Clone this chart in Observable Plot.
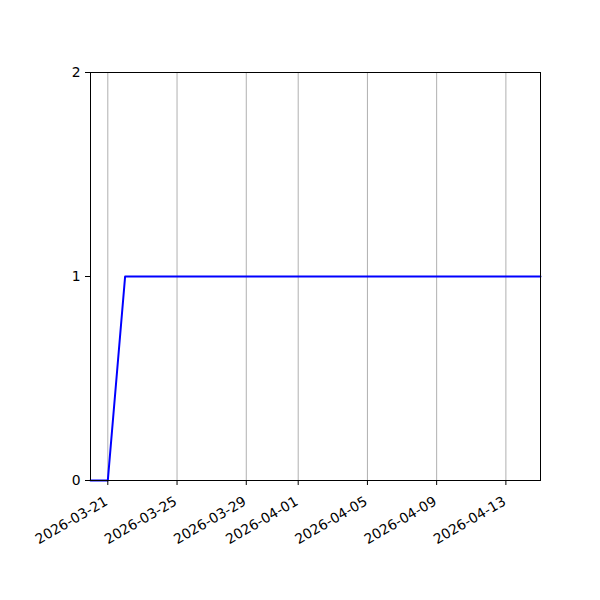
<!DOCTYPE html>
<html>
<head>
<meta charset="utf-8">
<script src="https://cdn.jsdelivr.net/npm/d3@7"></script>
<script src="https://cdn.jsdelivr.net/npm/@observablehq/plot@0.6"></script>
<style>
  html, body { margin: 0; padding: 0; background: #fff; }
  #chart svg { display: block; }
</style>
</head>
<body>
<div id="chart"></div>
<script>
const dates = [
  "2026-03-20","2026-03-21","2026-03-22","2026-03-23","2026-03-24","2026-03-25",
  "2026-03-26","2026-03-27","2026-03-28","2026-03-29","2026-03-30","2026-03-31",
  "2026-04-01","2026-04-02","2026-04-03","2026-04-04","2026-04-05","2026-04-06",
  "2026-04-07","2026-04-08","2026-04-09","2026-04-10","2026-04-11","2026-04-12",
  "2026-04-13","2026-04-14","2026-04-15"
];
const values = [0,0,1,1,1,1,1,1,1,1,1,1,1,1,1,1,1,1,1,1,1,1,1,1,1,1,1];
const xTicks = ["2026-03-21","2026-03-25","2026-03-29","2026-04-01","2026-04-05","2026-04-09","2026-04-13"];
const yTicks = [0, 1, 2];
const xDomain = ["2026-03-20", "2026-04-15"];

const parse = d3.utcParse("%Y-%m-%d");
const data = dates.map((d, i) => ({date: parse(d), value: values[i]}));
const tickDates = xTicks.map(parse);
const fmt = d3.utcFormat("%Y-%m-%d");

const chart = Plot.plot({
  width: 600,
  height: 600,
  marginLeft: 90,
  marginRight: 60,
  marginTop: 72,
  marginBottom: 120,
  style: {fontFamily: "DejaVu Sans", fontSize: "13.9px", color: "black", background: "white"},
  x: {type: "utc", domain: xDomain.map(parse)},
  y: {domain: [0, 2]},
  marks: [
    Plot.gridX(tickDates, {stroke: "#b0b0b0", strokeOpacity: 1, strokeWidth: 1}),
    Plot.line(data, {x: "date", y: "value", stroke: "blue", strokeWidth: 2}),
    Plot.frame({stroke: "black", strokeWidth: 1}),
    Plot.axisX({ticks: tickDates, tickFormat: () => "", tickSize: 5, label: null, stroke: "black"}),
    Plot.text(tickDates, {x: d => d, frameAnchor: "bottom", text: d => fmt(d),
      rotate: -30, textAnchor: "end", lineAnchor: "top", dx: -4, dy: 15,
      fontSize: 13.9, fill: "black"}),
    Plot.axisY({ticks: yTicks, tickFormat: d3.format("d"), tickSize: 5, tickPadding: 5,
      fontSize: 13.9, label: null, stroke: "black"})
  ]
});
document.getElementById("chart").appendChild(chart);
</script>
</body>
</html>
